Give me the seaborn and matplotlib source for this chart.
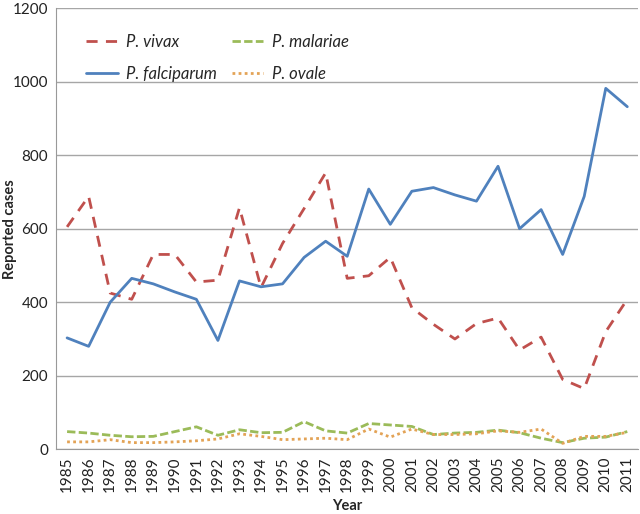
import numpy as np
import pandas as pd
import seaborn as sns
import matplotlib.pyplot as plt
from matplotlib.ticker import FixedLocator

years = list(range(1985, 2012))

vivax = [605, 688, 425, 408, 530, 530, 455, 460, 657, 440, 560, 655, 752, 465,
         472, 522, 385, 340, 300, 342, 357, 270, 305, 190, 165, 320, 408]
falciparum = [303, 280, 400, 465, 450, 428, 408, 296, 458, 442, 450, 522, 566, 525,
              708, 612, 702, 712, 692, 675, 770, 600, 652, 530, 688, 982, 932]
malariae = [48, 44, 38, 34, 35, 48, 61, 38, 53, 45, 46, 75, 50, 44,
            70, 66, 62, 40, 44, 46, 52, 45, 30, 18, 30, 33, 48]
ovale = [20, 20, 26, 18, 18, 20, 23, 28, 42, 35, 26, 28, 30, 26,
         55, 33, 55, 40, 40, 42, 50, 46, 55, 16, 35, 35, 46]

species = ["P. vivax", "P. falciparum", "P. malariae", "P. ovale"]
colors = ["#C0504D", "#4F81BD", "#9BBB59", "#E3A356"]

df = pd.DataFrame({"Year": years, "P. vivax": vivax, "P. falciparum": falciparum,
                   "P. malariae": malariae, "P. ovale": ovale})
long_df = df.melt(id_vars="Year", var_name="Species", value_name="Cases")

sns.set_style("white")
plt.rcParams["font.family"] = ["Lato", "DejaVu Sans"]

fig = plt.figure(figsize=(6.4, 5.14), dpi=100)
ax = fig.add_axes([0.088, 0.126, 0.909, 0.858])

sns.lineplot(data=long_df, x="Year", y="Cases", hue="Species", style="Species",
             hue_order=species, style_order=species, palette=colors,
             dashes={"P. vivax": (4, 3), "P. falciparum": "",
                     "P. malariae": (3, 1.2), "P. ovale": (1, 1.2)},
             linewidth=2, ax=ax)

ax.set_ylim(0, 1200)
ax.set_yticks(range(0, 1201, 200))
ax.set_xlim(1984.5, 2011.5)
ax.set_xticks(years)
ax.set_xticklabels([str(y) for y in years], rotation=90)
ax.xaxis.set_minor_locator(FixedLocator(np.arange(1984.5, 2012, 1)))
ax.tick_params(axis="x", which="major", length=0, labelsize=11, pad=5, colors="#222222")
ax.tick_params(axis="x", which="minor", length=5, color="#999999", direction="out")
ax.tick_params(axis="y", which="major", length=4, labelsize=11, pad=2, colors="#222222")
ax.tick_params(axis="y", which="major", color="#999999")

ax.grid(axis="y", color="#A6A6A6", linewidth=1)
for side in ["top", "right"]:
    ax.spines[side].set_visible(False)
for side in ["left", "bottom"]:
    ax.spines[side].set_color("#999999")

ax.set_xlabel("Year", fontweight="bold", fontsize=10.5, labelpad=5)
ax.set_ylabel("Reported cases", fontweight="bold", fontsize=10.5)
ax.yaxis.set_label_coords(-0.067, 0.5)

handles, labels = ax.get_legend_handles_labels()
leg = ax.legend(handles, labels, ncol=2, loc="upper left", frameon=False,
                bbox_to_anchor=(0.025, 0.975), handlelength=1.9, handletextpad=0.5,
                columnspacing=0.9, fontsize=12, labelspacing=0.95)
for t in leg.get_texts():
    t.set_fontstyle("italic")

fig.savefig("out.png", dpi=100)
